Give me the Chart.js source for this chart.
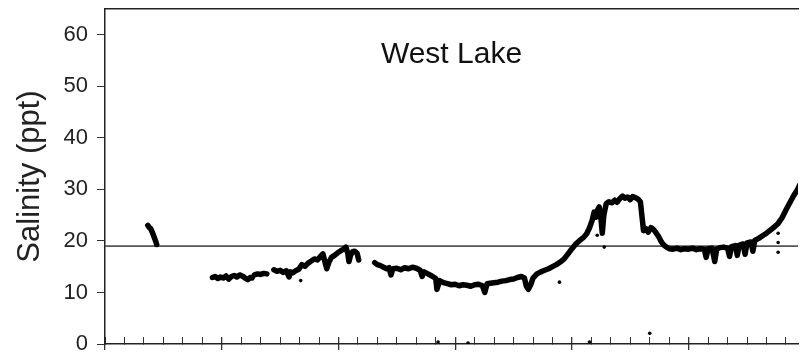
<!DOCTYPE html>
<html>
<head>
<meta charset="utf-8">
<title>West Lake salinity</title>
<script src="https://cdn.jsdelivr.net/npm/chart.js@4.4.1/dist/chart.umd.min.js"></script>
<style>
  html, body { margin: 0; padding: 0; background: #fff; overflow: hidden; }
  canvas { display: block; }
</style>
</head>
<body>
<canvas id="chart" width="802" height="357"></canvas>
<script>
// Logger record: day of deployment and salinity (ppt); null marks a gap in the record.
const days = [
  11.0, 11.4, 11.8, 12.2, 12.6, 13.0, 13.3, 14.0,
  27.6, 28.3, 29.0, 29.7, 30.4, 31.1, 31.8, 32.5, 33.2, 33.9, 34.6, 35.3, 36.0, 36.7, 37.3, 37.8, 38.1,
  38.4, 39.2, 40.0, 40.8, 41.6, 42.5,
  43.4, 44.2, 45.0, 45.8, 46.6, 47.3, 47.6, 48.2, 49.0, 49.8, 50.6, 51.4, 52.2, 53.0, 53.8, 54.6, 55.4, 56.0,
  56.5, 57.0, 57.5, 58.2, 59.0, 59.8, 60.6, 61.3, 61.9, 62.4, 62.7, 63.1, 63.6, 64.2, 64.8, 65.2, 66.5,
  69.3, 70.0, 70.8, 71.6, 72.4, 73.0, 73.5, 74.0, 75.0, 76.0,
  77.0, 78.0, 79.0, 80.0, 81.0, 81.5, 82.0, 83.0, 84.0, 85.0,
  85.3, 86.0, 87.0, 88.0, 89.0, 90.0, 91.0, 92.0, 93.0, 94.0,
  95.0, 96.0, 97.0, 97.6, 98.2, 99.0, 100.0, 101.0, 102.0, 103.0,
  104.0, 105.0, 106.0, 107.0, 107.8, 108.3, 108.8, 109.4, 110.0, 111.0,
  112.0, 113.0, 114.0, 115.0, 116.0, 117.0, 118.0, 119.0, 120.0, 121.0,
  122.0, 123.0, 123.8, 124.5, 125.2, 125.7, 126.2, 126.6, 127.0, 127.5,
  127.8, 128.2, 128.8, 129.5, 130.3, 131.0, 131.6, 132.3, 133.0, 133.6,
  134.3, 135.0, 135.6, 136.3, 137.0, 137.6, 138.0, 138.4, 139.0, 139.6,
  140.3, 141.0, 141.6, 142.3, 143.0, 143.6, 144.3, 145.0, 146.0, 147.0,
  148.0, 149.0, 150.0, 151.0, 152.0, 153.0, 154.0, 154.5, 155.0, 156.0,
  156.7, 157.2, 158.0, 159.0, 160.0, 160.5, 161.0, 162.0, 162.5, 163.0,
  164.0, 164.5, 165.0, 166.0, 166.5, 167.0, 168.0, 169.0, 170.0, 171.0,
  172.0, 173.0, 174.0, 175.0, 176.0, 177.0, 178.0, 178.5
];
const salinity = [
  23.0, 22.6, 22.3, 21.6, 20.8, 20.0, 19.3, null,
  12.9, 13.1, 12.7, 13.0, 12.8, 13.2, 12.6, 13.1, 13.3, 13.0, 13.4, 13.2, 12.8, 12.5, 12.9, 12.8, null,
  13.4, 13.6, 13.5, 13.7, 13.6, null,
  14.4, 14.1, 14.3, 13.9, 14.2, 13.0, 14.0, 13.8, 14.2, 14.5, 15.4, 15.1, 15.7, 16.1, 16.5, 16.3, 17.0, 17.5,
  16.0, 14.6, 15.8, 16.8, 17.2, 17.7, 18.1, 18.4, 18.8, 17.6, 16.0, 17.2, 17.9, 18.0, 17.6, 16.3, null,
  15.8, 15.4, 15.2, 14.9, 14.6, 14.8, 13.4, 14.6, 14.7, 14.4,
  14.8, 14.6, 14.9, 14.7, 14.3, 13.1, 14.0, 13.6, 13.2, 12.7,
  10.6, 12.3, 11.9, 11.7, 11.5, 11.6, 11.3, 11.5, 11.4, 11.2,
  11.5, 11.6, 11.3, 10.0, 11.7, 11.8, 11.9, 12.0, 12.2, 12.3,
  12.5, 12.6, 12.9, 13.1, 12.8, 11.2, 10.6, 11.5, 12.8, 13.6,
  14.0, 14.3, 14.6, 15.0, 15.4, 15.9, 16.5, 17.5, 18.5, 19.4,
  20.1, 20.7, 21.4, 22.5, 24.0, 25.6, 24.6, 26.0, 26.6, 24.0,
  21.5, 25.0, 27.2, 27.6, 27.4, 27.9, 27.5, 28.2, 28.7, 28.3,
  28.5, 28.0, 28.6, 28.4, 28.1, 27.6, 24.8, 22.0, 22.4, 21.7,
  22.6, 22.2, 21.6, 20.8, 19.8, 19.2, 18.8, 18.5, 18.4, 18.6,
  18.3, 18.5, 18.4, 18.6, 18.3, 18.5, 18.4, 16.8, 18.5, 18.6,
  16.0, 18.4, 18.7, 18.8, 18.6, 17.0, 18.9, 19.1, 17.2, 19.2,
  19.4, 17.4, 19.6, 19.8, 18.0, 20.1, 20.5, 21.0, 21.5, 22.1,
  22.7, 23.4, 24.5, 26.0, 27.4, 28.8, 30.0, 30.8
];

// Isolated readings away from the main trace
const strayDays = [50.3, 116.8, 126.5, 128.3, 173.0, 173.0, 173.0, 85.6, 93.3, 124.5, 140.0];
const straySalinity = [12.3, 12.0, 21.1, 18.8, 21.5, 19.7, 17.8, 0.4, 0.2, 0.4, 2.1];

// Reference salinity level
const referenceLevel = 19;

// Axis settings
const dayRange = [0, 178.1];
const salinityRange = [0, 65];
const salinityStep = 10;
const minorDayStep = 5;
const majorDayStep = 30;

const chartTitle = 'West Lake';
const yTitle = 'Salinity (ppt)';
const family = "'Liberation Sans', Arial, Helvetica, sans-serif";

const tracePoints = days.map((d, i) => ({ x: d, y: salinity[i] }));
const strayPoints = strayDays.map((d, i) => ({ x: d, y: straySalinity[i] }));
const referencePoints = [
  { x: dayRange[0], y: referenceLevel },
  { x: dayRange[1], y: referenceLevel }
];

// Title written inside the plot frame
const innerTitle = {
  id: 'innerTitle',
  afterDraw(chart) {
    const { ctx, chartArea } = chart;
    ctx.save();
    ctx.font = '30px ' + family;
    ctx.fillStyle = '#111';
    ctx.textAlign = 'center';
    ctx.textBaseline = 'alphabetic';
    ctx.fillText(chartTitle, (chartArea.left + chartArea.right) / 2, chartArea.top + 54);
    ctx.restore();
  }
};

const axisColor = '#222';

new Chart(document.getElementById('chart'), {
  type: 'line',
  data: {
    datasets: [
      {
        label: 'Salinity',
        data: tracePoints,
        borderColor: '#000',
        borderWidth: 5.5,
        pointRadius: 0,
        spanGaps: false,
        tension: 0,
        borderJoinStyle: 'round',
        borderCapStyle: 'round',
        xAxisID: 'x',
        yAxisID: 'y',
        order: 1
      },
      {
        label: 'Stray readings',
        type: 'scatter',
        data: strayPoints,
        pointRadius: 1.8,
        pointBackgroundColor: '#000',
        pointBorderWidth: 0,
        showLine: false,
        xAxisID: 'x',
        yAxisID: 'y',
        order: 0
      },
      {
        label: 'Reference level',
        data: referencePoints,
        borderColor: '#555',
        borderWidth: 1.8,
        pointRadius: 0,
        xAxisID: 'x',
        yAxisID: 'y',
        order: 2
      }
    ]
  },
  options: {
    responsive: false,
    animation: false,
    devicePixelRatio: 1,
    layout: { padding: { top: 9, left: 0, right: 0, bottom: 0 } },
    plugins: { legend: { display: false }, tooltip: { enabled: false }, title: { display: false } },
    scales: {
      x: {
        type: 'linear', position: 'bottom', weight: 0,
        min: dayRange[0], max: dayRange[1],
        ticks: { display: false, stepSize: minorDayStep, includeBounds: false },
        grid: { drawOnChartArea: false, tickLength: -7, color: '#333', lineWidth: 1 },
        border: { color: axisColor, width: 1.5 }
      },
      xMajor: {
        type: 'linear', position: 'bottom', weight: 1,
        min: dayRange[0], max: dayRange[1],
        ticks: { display: false, stepSize: majorDayStep, includeBounds: false },
        grid: { drawOnChartArea: false, tickLength: 13, color: '#333', lineWidth: 1.3 },
        border: { display: false }
      },
      xTop: {
        type: 'linear', position: 'top',
        min: dayRange[0], max: dayRange[1],
        ticks: { display: false },
        grid: { drawOnChartArea: false, drawTicks: false },
        border: { color: axisColor, width: 1.5 }
      },
      y: {
        type: 'linear', position: 'left',
        min: salinityRange[0], max: salinityRange[1],
        ticks: {
          stepSize: salinityStep, includeBounds: false,
          color: '#222', padding: 9,
          font: { family: family, size: 22 }
        },
        grid: { drawOnChartArea: false, tickLength: 8, color: '#333', lineWidth: 1 },
        border: { color: axisColor, width: 1.5 },
        title: {
          display: true, text: yTitle, color: '#222',
          font: { family: family, size: 31 },
          padding: { top: 12, bottom: 0 }
        },
        afterFit(scale) {
          // fixed axis width; labels may overhang the plot's top and bottom edges
          scale.width = 105;
          scale.paddingTop = 0;
          scale.paddingBottom = 0;
        }
      }
    }
  },
  plugins: [innerTitle]
});
</script>
</body>
</html>
